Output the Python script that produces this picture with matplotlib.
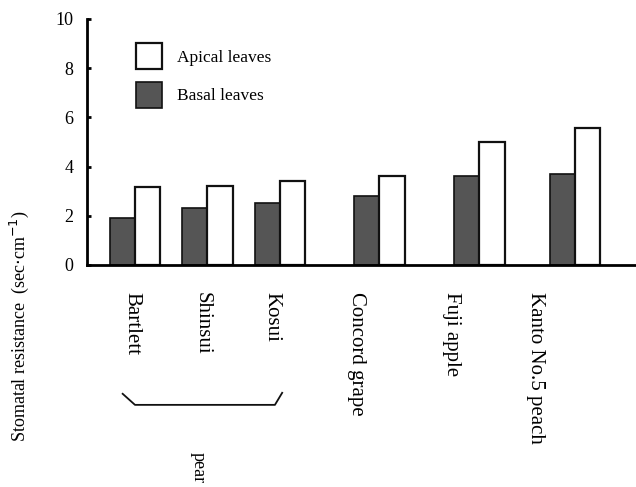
import matplotlib
matplotlib.use('Agg')
import matplotlib.pyplot as plt
import matplotlib.transforms as mtransforms
from matplotlib.patches import Patch

# cultivars and stomatal resistance values (sec/cm)
cultivars = ['Bartlett', 'Shinsui', 'Kosui', 'Concord grape', 'Fuji apple', 'Kanto No.5 peach']
basal = [1.9, 2.3, 2.5, 2.8, 3.6, 3.7]
apical = [3.15, 3.2, 3.4, 3.6, 5.0, 5.55]
yticks = [0, 2, 4, 6, 8, 10]

# group positions (pears are packed closer together)
pos = [0, 1.0, 2.0, 3.37, 4.75, 6.07]
label_pos = [-0.04, 0.92, 1.89, 3.06, 4.37, 5.52]
width = 0.35

plt.rcParams['font.family'] = ['Liberation Serif', 'DejaVu Serif']

fig = plt.figure(figsize=(6.36, 4.87), dpi=100)
ax = fig.add_axes([0.137, 0.456, 0.863, 0.505])

ax.bar([p - width / 2 for p in pos], basal, width, color='#555555', edgecolor='#111111',
       linewidth=1.2, label='Basal leaves')
ax.bar([p + width / 2 for p in pos], apical, width, color='white', edgecolor='#111111',
       linewidth=1.6, label='Apical leaves')

ax.set_xlim(-0.66, 6.91)
ax.set_ylim(0, 10)
ax.set_yticks(yticks)
ax.set_yticklabels([str(t) for t in yticks], fontsize=13)
ax.tick_params(axis='y', direction='in', length=3, width=2, pad=10)
ax.set_xticks([])
for s in ['top', 'right']:
    ax.spines[s].set_visible(False)
ax.spines['left'].set_linewidth(2)
ax.spines['bottom'].set_linewidth(2)

# rotated cultivar names under the axis
trans = mtransforms.blended_transform_factory(ax.transData, ax.transAxes)
for x, name in zip(label_pos, cultivars):
    ax.text(x, -0.11, name, rotation=-90, ha='center', va='top', fontsize=15,
            transform=trans)

# bracket grouping the pear cultivars
ax.plot([-0.17, 0.0, 1.93, 2.03], [-0.524, -0.569, -0.569, -0.52], color='#111111',
        linewidth=1.3, transform=trans, clip_on=False)
ax.text(0.87, -0.76, 'pear', rotation=-90, ha='center', va='top', fontsize=13,
        transform=trans)

fig.text(0.03, 0.33, 'Stomatal resistance  (sec$\\cdot$cm$^{-1}$)', rotation=90,
         ha='center', va='center', fontsize=13)

handles = [Patch(facecolor='white', edgecolor='#111111', linewidth=1.6),
           Patch(facecolor='#555555', edgecolor='#111111', linewidth=1.2)]
ax.legend(handles, ['Apical leaves', 'Basal leaves'], loc='upper left',
          bbox_to_anchor=(0.06, 0.965), frameon=False, fontsize=12.5,
          handlelength=1.5, handleheight=1.9, labelspacing=0.75, handletextpad=0.9)

fig.savefig('out.png', dpi=100)
